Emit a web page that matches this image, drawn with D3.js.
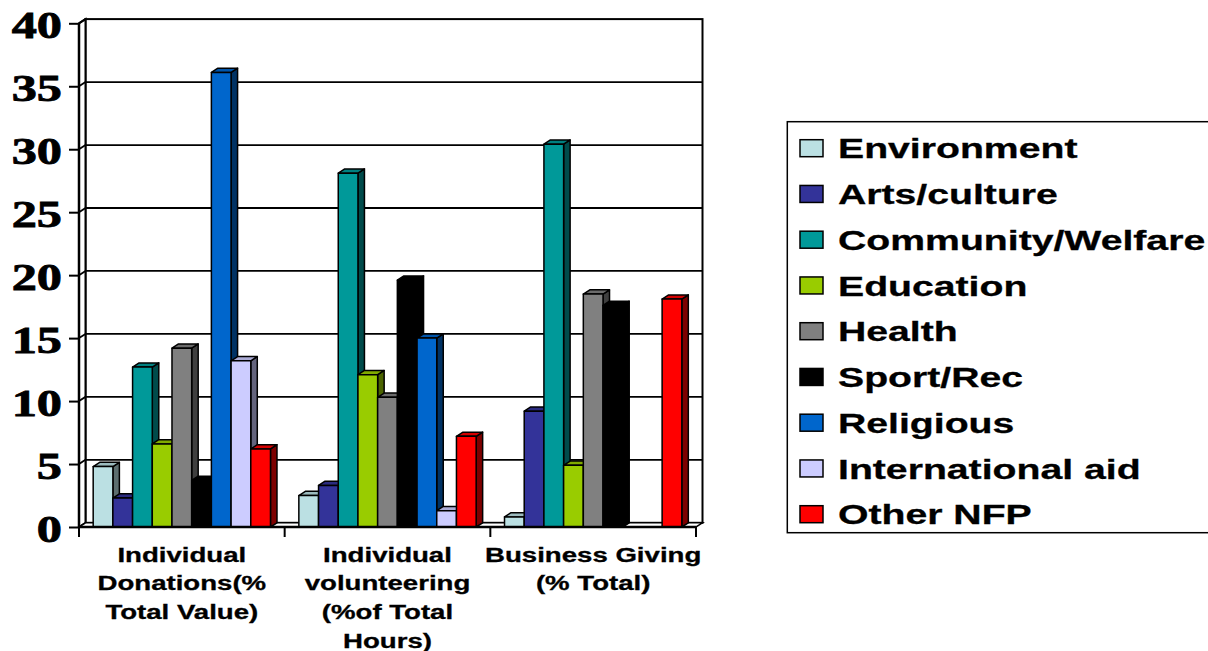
<!DOCTYPE html>
<html>
<head>
<meta charset="utf-8">
<script src="https://cdn.jsdelivr.net/npm/d3@7"></script>
<style>
  html, body { margin: 0; padding: 0; background: #fff; }
  svg { display: block; }
</style>
</head>
<body>
<script>
// Category labels (one entry per line of the axis label)
const categories = [
  "Individual Donations(% Total Value)",
  "Individual volunteering (%of Total Hours)",
  "Business Giving (% Total)"
];
const categoryLines = [
  ["Individual", "Donations(%", "Total Value)"],
  ["Individual", "volunteering", "(%of Total", "Hours)"],
  ["Business Giving", "(% Total)"]
];

// Sectors (series) and their fill colours
const sectors = [
  "Environment", "Arts/culture", "Community/Welfare", "Education", "Health",
  "Sport/Rec", "Religious", "International aid", "Other NFP"
];
const sectorColors = [
  "#BBE0E3", "#333399", "#009999", "#99CC00", "#808080",
  "#000000", "#0066CC", "#CCCCFF", "#FF0000"
];

// Percentage shares per sector, in category order
const environment   = [4.8, 2.5, 0.8];
const artsCulture   = [2.3, 3.3, 9.2];
const community     = [12.7, 28.1, 30.4];
const education     = [6.6, 12.1, 4.9];
const health        = [14.2, 10.3, 18.5];
const sportRec      = [3.7, 19.6, 17.6];
const religious     = [36.1, 15.0, 0];
const international = [13.2, 1.3, 0];
const otherNFP      = [6.2, 7.2, 18.1];
const seriesValues = [environment, artsCulture, community, education, health,
                      sportRec, religious, international, otherNFP];

const yTicks = [0, 5, 10, 15, 20, 25, 30, 35, 40];

// ---- layout ----
const W = 1208, H = 651;
const DX = 6.5, DY = -4.2;       // depth offset of the 3-D look
const SX = 1.38;                 // horizontal stretch of the lettering

const svg = d3.select("body").append("svg").attr("width", W).attr("height", H);

const x0 = d3.scaleBand().domain(categories).range([79, 696]).paddingInner(0).paddingOuter(0);
const x1 = d3.scaleBand().domain(sectors).range([0, x0.bandwidth()]).paddingInner(0).paddingOuter(0.72);
const y = d3.scaleLinear().domain([0, 40]).range([527, 23.3]);

const left = x0.range()[0], right = x0.range()[1];
const pts = a => a.map(p => p.join(",")).join(" ");

// Back wall
svg.append("rect")
  .attr("x", left + DX).attr("y", y(40) + DY)
  .attr("width", right - left).attr("height", y(0) - y(40))
  .attr("fill", "#fff").attr("stroke", "#000").attr("stroke-width", 2);

// Side wall
svg.append("polygon")
  .attr("points", pts([[left, y(0)], [left, y(40)], [left + DX, y(40) + DY], [left + DX, y(0) + DY]]))
  .attr("fill", "#fff").attr("stroke", "#000").attr("stroke-width", 2);

// Gridlines on the back wall and side wall
const grid = svg.append("g").attr("stroke", "#000").attr("stroke-width", 1.8);
grid.selectAll("line.back").data(yTicks.filter(t => t > 0 && t < 40)).join("line")
  .attr("class", "back")
  .attr("x1", left + DX).attr("x2", right + DX)
  .attr("y1", d => y(d) + DY).attr("y2", d => y(d) + DY);
grid.selectAll("line.side").data(yTicks.filter(t => t > 0)).join("line")
  .attr("class", "side")
  .attr("x1", left).attr("x2", left + DX)
  .attr("y1", d => y(d)).attr("y2", d => y(d) + DY);

// Floor
svg.append("polygon")
  .attr("points", pts([[left, y(0)], [right, y(0)], [right + DX, y(0) + DY], [left + DX, y(0) + DY]]))
  .attr("fill", "#fff").attr("stroke", "#000").attr("stroke-width", 1.5);

// Bars
const cells = [];
categories.forEach((c, ci) => {
  sectors.forEach((s, si) => {
    cells.push({ cat: c, sector: s, value: seriesValues[si][ci], color: sectorColors[si] });
  });
});

const bars = svg.append("g").selectAll("g.bar")
  .data(cells.filter(d => d.value > 0)).join("g").attr("class", "bar")
  .attr("stroke", "#000").attr("stroke-width", 1.5).attr("stroke-linejoin", "round");

bars.each(function (d) {
  const g = d3.select(this);
  const x = x0(d.cat) + x1(d.sector), w = x1.bandwidth();
  const yt = y(d.value), yb = y(0);
  const base = d3.rgb(d.color);
  g.append("polygon")
    .attr("points", pts([[x + w, yb], [x + w, yt], [x + w + DX, yt + DY], [x + w + DX, yb + DY]]))
    .attr("fill", base.darker(2).formatHex());
  g.append("polygon")
    .attr("points", pts([[x, yt], [x + w, yt], [x + w + DX, yt + DY], [x + DX, yt + DY]]))
    .attr("fill", base.darker(0.5).formatHex());
  g.append("rect")
    .attr("x", x).attr("y", yt).attr("width", w).attr("height", yb - yt)
    .attr("fill", d.color);
});

// Value axis
const yAxis = svg.append("g").attr("transform", `translate(${left},0)`)
  .call(d3.axisLeft(y).tickValues(yTicks).tickSize(10).tickPadding(0));
yAxis.select(".domain").remove();
yAxis.selectAll(".tick line").attr("stroke", "#000").attr("stroke-width", 2);
yAxis.selectAll(".tick text")
  .attr("x", -17 / 1.36).attr("dy", 14.5)
  .attr("transform", "scale(1.36,1)")
  .attr("text-anchor", "end")
  .attr("fill", "#000")
  .attr("stroke", "#000").attr("stroke-width", 0.8)
  .style("font-family", "'Liberation Serif', 'Times New Roman', serif")
  .style("font-weight", "bold")
  .style("font-size", "37px");
svg.append("line")
  .attr("x1", left).attr("x2", left).attr("y1", y(40)).attr("y2", y(0))
  .attr("stroke", "#000").attr("stroke-width", 2.5);

// Category axis line and boundary ticks
svg.append("line")
  .attr("x1", left).attr("x2", right).attr("y1", y(0)).attr("y2", y(0))
  .attr("stroke", "#000").attr("stroke-width", 2.5);
const bounds = categories.map(c => x0(c)).concat([right]);
svg.append("g").selectAll("line").data(bounds).join("line")
  .attr("x1", d => d).attr("x2", d => d)
  .attr("y1", y(0)).attr("y2", y(0) + 10)
  .attr("stroke", "#000").attr("stroke-width", 2);

// Category labels
const catLabels = svg.append("g").selectAll("text").data(categories).join("text")
  .attr("transform", `scale(${SX},1)`)
  .attr("text-anchor", "middle")
  .style("font-family", "'Liberation Sans', Arial, sans-serif")
  .style("font-weight", "bold")
  .style("font-size", "20px")
  .attr("fill", "#000")
  .attr("stroke", "#000").attr("stroke-width", 0.3);
catLabels.each(function (c, i) {
  const cx = (x0(c) + x0.bandwidth() / 2) / SX;
  d3.select(this).selectAll("tspan").data(categoryLines[i]).join("tspan")
    .attr("x", cx)
    .attr("y", (d, k) => 561.7 + k * 28.8)
    .text(d => d);
});

// Legend
const LX = 787.3, LY = 121.7, rowH = 45.75;
const legend = svg.append("g");
legend.append("rect")
  .attr("x", LX).attr("y", LY).attr("width", 440).attr("height", 411)
  .attr("fill", "#fff").attr("stroke", "#000").attr("stroke-width", 1.5);
const rows = legend.selectAll("g.row").data(sectors).join("g").attr("class", "row")
  .attr("transform", (d, i) => `translate(0,${148.2 + i * rowH})`);
rows.append("rect")
  .attr("x", 800).attr("y", -8.5).attr("width", 23).attr("height", 17)
  .attr("fill", (d, i) => sectorColors[i])
  .attr("stroke", "#000").attr("stroke-width", 1.5);
rows.append("text")
  .attr("transform", "scale(1.4,1)")
  .attr("x", 838 / 1.4).attr("y", 10.2)
  .style("font-family", "'Liberation Sans', Arial, sans-serif")
  .style("font-weight", "bold")
  .style("font-size", "28px")
  .attr("fill", "#000")
  .attr("stroke", "#000").attr("stroke-width", 0.3)
  .text(d => d);
</script>
</body>
</html>
